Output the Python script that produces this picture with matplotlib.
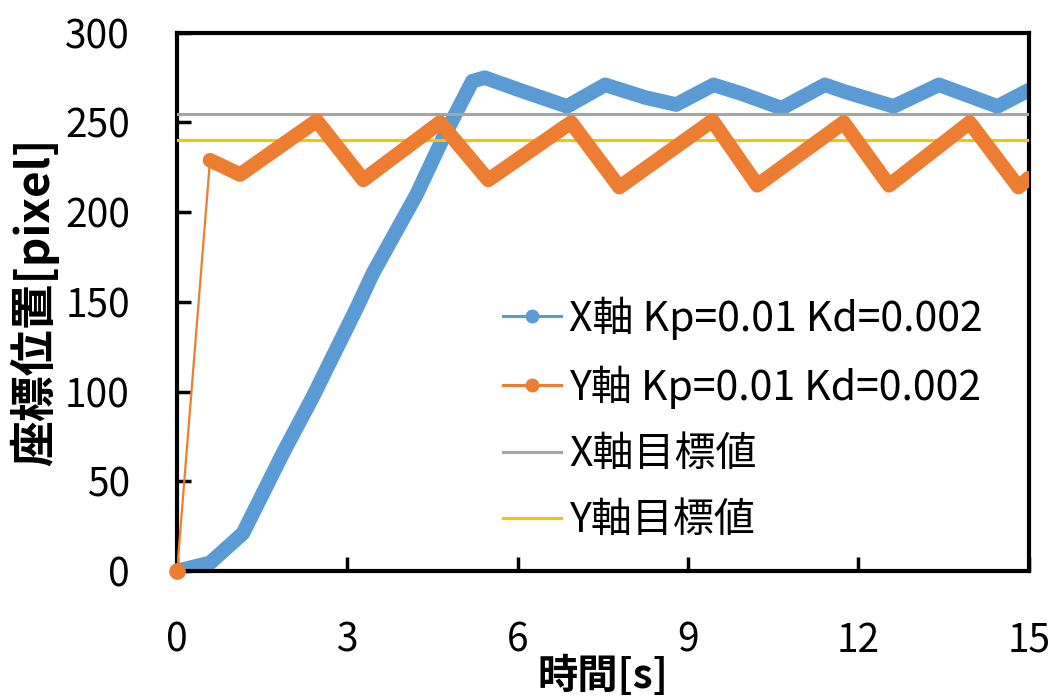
import matplotlib
matplotlib.use('Agg')
import matplotlib.pyplot as plt
from matplotlib.lines import Line2D

plt.rcParams['font.family'] = ['Noto Sans CJK JP', 'DejaVu Sans']

# vertices (time [s], position [pixel])
x_t = [0, 0.58, 1.16, 1.87, 2.39, 3.17, 3.45, 4.22, 4.68, 5.2, 5.42, 6.04,
       6.87, 7.54, 8.24, 8.79, 9.45, 9.95, 10.65, 11.41, 11.78, 12.62, 13.42,
       14.45, 15.0]
x_pos = [0, 4.5, 21, 66, 97, 147, 166, 210, 241, 273, 275, 268,
         259, 271, 264, 260, 271, 266, 258, 271, 267, 259, 271,
         259, 268]

y_t = [0, 0.58, 1.11, 2.46, 3.28, 4.63, 5.48, 6.94, 7.79, 9.43, 10.22,
       11.74, 12.54, 13.96, 14.82, 15.0]
y_pos = [0, 229, 221, 251, 218, 250, 218, 250, 214, 251, 215,
         250, 215, 250, 214, 219]

target_t = [0, 15]
x_target = 255
y_target = 240

labels = ['X軸 Kp=0.01 Kd=0.002', 'Y軸 Kp=0.01 Kd=0.002', 'X軸目標値', 'Y軸目標値']
colors = ['#5B9BD5', '#ED7D31', '#A5A5A5', '#FFC000']

fig = plt.figure(figsize=(10.54, 6.98), dpi=100)
ax = fig.add_axes([0.168, 0.182, 0.808, 0.771])

# target lines
ax.plot(target_t, [x_target] * 2, color=colors[2], lw=2.2, zorder=3)
ax.plot(target_t, [y_target] * 2, color=colors[3], lw=2.2, zorder=3)

# orange: thin jump at the start, dense band afterwards
ax.plot(y_t[:2], y_pos[:2], color=colors[1], lw=1.6, zorder=4)
ax.plot(y_t[1:], y_pos[1:], color=colors[1], lw=10.5,
        solid_capstyle='round', solid_joinstyle='round', zorder=4)
ax.plot(y_t[:1], y_pos[:1], 'o', color=colors[1], ms=11, zorder=6,
        clip_on=False)

# blue: dense band
ax.plot(x_t, x_pos, color=colors[0], lw=10.5,
        solid_capstyle='round', solid_joinstyle='round', zorder=2)

ax.set_xlim(0, 15)
ax.set_ylim(0, 300)
ax.set_xticks(range(0, 16, 3))
ax.set_yticks(range(0, 301, 50))
ax.tick_params(direction='in', length=10, width=2.5, labelsize=28)
ax.tick_params(axis='y', pad=34)
ax.tick_params(axis='x', pad=36)
for s in ax.spines.values():
    s.set_linewidth(3)

ax.set_xlabel('時間[s]', fontsize=29, fontweight='bold', labelpad=-4)
ax.set_ylabel('座標位置[pixel]', fontsize=33, fontweight='bold', labelpad=4)

handles = [
    Line2D([], [], color=colors[0], lw=2.2, marker='o', ms=9),
    Line2D([], [], color=colors[1], lw=2.2, marker='o', ms=9),
    Line2D([], [], color=colors[2], lw=2.2),
    Line2D([], [], color=colors[3], lw=2.2),
]
ax.legend(handles, labels, loc='upper left', bbox_to_anchor=(0.383, 0.51),
          frameon=False, fontsize=29.5, handlelength=1.4, handletextpad=0.2,
          borderpad=0, borderaxespad=0, labelspacing=0.62)

fig.savefig('out.png', dpi=100)
